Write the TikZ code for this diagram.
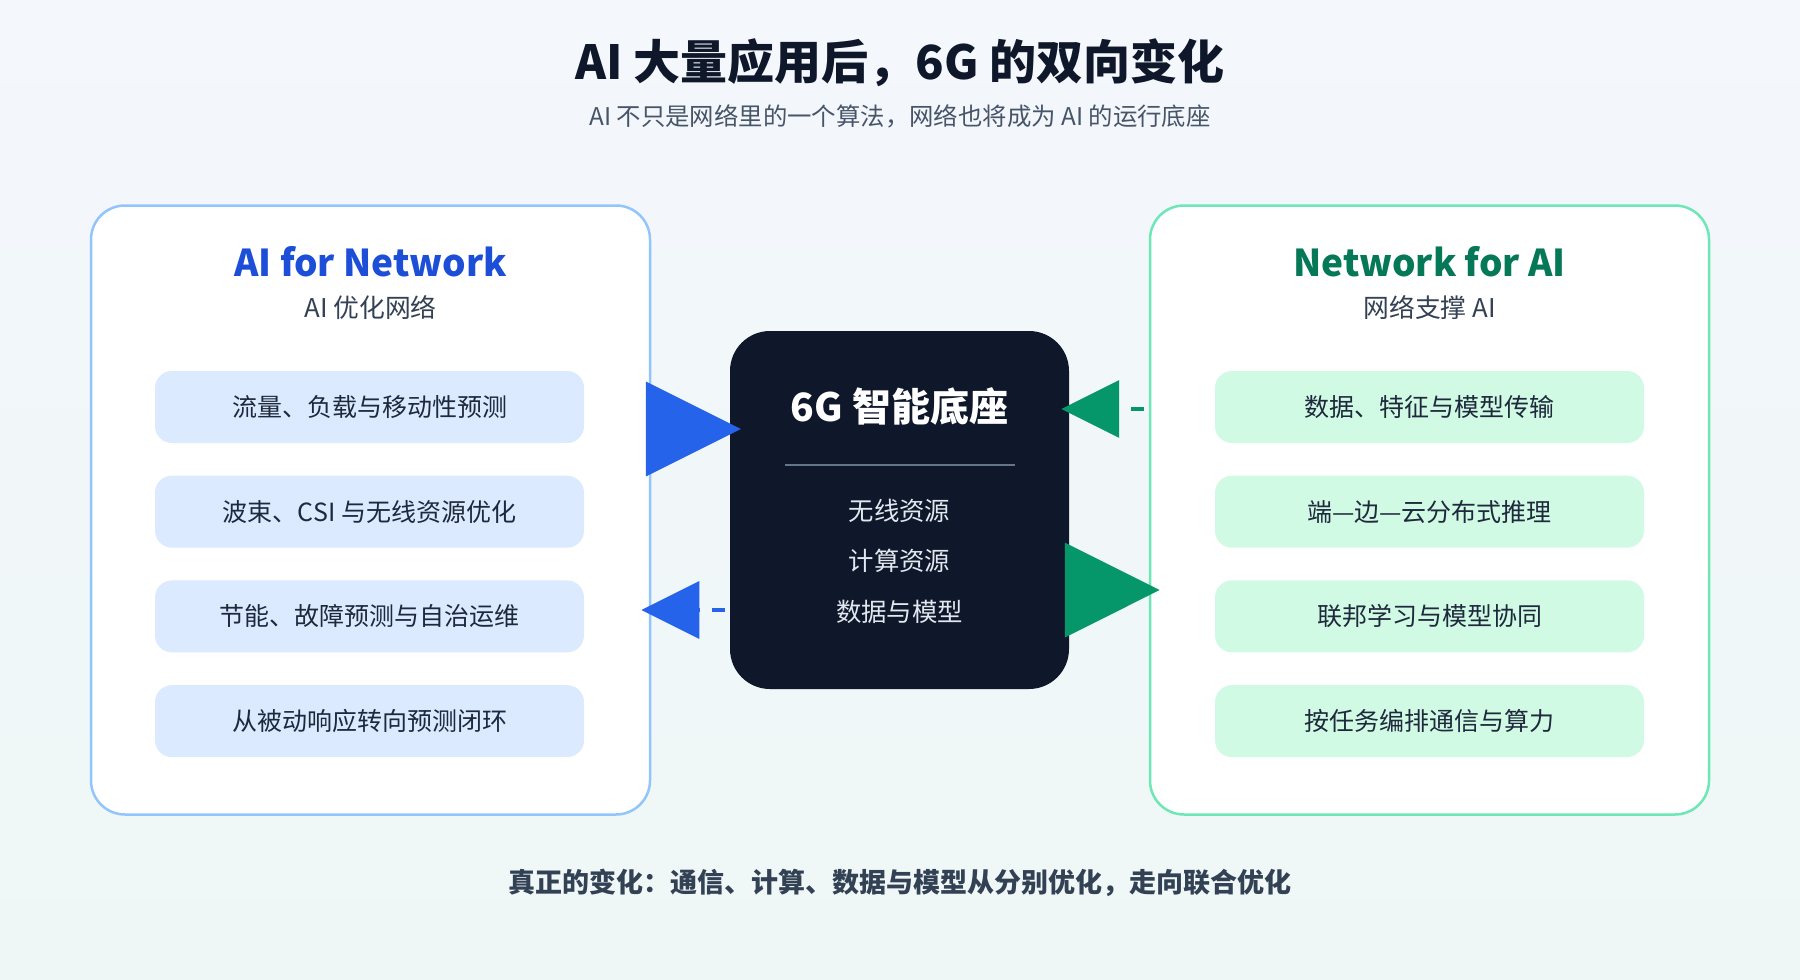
\documentclass[tikz,border=0pt]{standalone}
\usepackage{fontspec}
\setmainfont{Noto Sans CJK SC}
\usetikzlibrary{arrows.meta}

\definecolor{bgtop}{HTML}{F4F7FC}
\definecolor{bgbot}{HTML}{EEF7F6}
\definecolor{inkdark}{HTML}{0F172A}
\definecolor{inkgray}{HTML}{475569}
\definecolor{inksub}{HTML}{334155}
\definecolor{inkitem}{HTML}{1E293B}
\definecolor{afnedge}{HTML}{93C5FD}
\definecolor{afnfill}{HTML}{DBEAFE}
\definecolor{afntext}{HTML}{1D4ED8}
\definecolor{afnarrow}{HTML}{2563EB}
\definecolor{nfaedge}{HTML}{6EE7B7}
\definecolor{nfafill}{HTML}{D1FAE5}
\definecolor{nfatext}{HTML}{047857}
\definecolor{nfaarrow}{HTML}{059669}
\definecolor{corerulec}{HTML}{64748B}
\definecolor{coreink}{HTML}{E2E8F0}

\tikzset{
  headline/.style={text=inkdark,font=\fontsize{47}{56}\selectfont\bfseries},
  subline/.style={text=inkgray,font=\fontsize{24.4}{29}\selectfont},
  panel/.style={rectangle,rounded corners=34pt,minimum width=559pt,minimum height=609pt,
    fill=white,line width=2.5pt},
  paneltitle/.style={font=\fontsize{37}{44}\selectfont\bfseries},
  panelsub/.style={text=inksub,font=\fontsize{25.8}{31}\selectfont},
  itemA/.style={rectangle,rounded corners=17pt,minimum width=429pt,minimum height=72pt,
    fill=afnfill,text=inkitem,font=\fontsize{25}{30}\selectfont},
  itemB/.style={itemA,fill=nfafill},
  core/.style={rectangle,rounded corners=40pt,minimum width=339pt,minimum height=358pt,fill=inkdark},
  coretitle/.style={text=white,font=\fontsize{39}{47}\selectfont\bfseries},
  coreitem/.style={text=coreink,font=\fontsize{25.4}{30}\selectfont},
  corerule/.style={draw=corerulec,line width=1.5pt},
  bigarrow/.style={line width=4pt,-{Triangle[length=95pt,width=94pt]}},
  dasharrow/.style={line width=3.5pt,dash pattern=on 13pt off 12pt,dash phase=19pt,
    -{Triangle[length=58pt,width=57pt]}},
  footline/.style={text=inksub,font=\fontsize{27}{32}\selectfont\bfseries}
}

\begin{document}
\begin{tikzpicture}[x=1pt,y=-1pt]
  \shade[top color=bgtop,bottom color=bgbot] (0,0) rectangle (1800,980);
  \node[headline] (title) at (900,63) {AI 大量应用后，6G 的双向变化};
  \node[subline] (subtitle) at (900,116) {AI 不只是网络里的一个算法，网络也将成为 AI 的运行底座};

  \node[panel,draw=afnedge] (afn) at (370.5,510) {};
  \node[paneltitle,text=afntext] (afnT) at (370.5,262) {AI for Network};
  \node[panelsub] (afnS) at (370.5,308) {AI 优化网络};
  \node[itemA] (afn1) at (369.5,407) {流量、负载与移动性预测};
  \node[itemA] (afn2) at (369.5,511.7) {波束、CSI 与无线资源优化};
  \node[itemA] (afn3) at (369.5,616.4) {节能、故障预测与自治运维};
  \node[itemA] (afn4) at (369.5,721.1) {从被动响应转向预测闭环};

  \node[panel,draw=nfaedge] (nfa) at (1429.5,510) {};
  \node[paneltitle,text=nfatext] (nfaT) at (1429.5,262) {Network for AI};
  \node[panelsub] (nfaS) at (1429.5,308) {网络支撑 AI};
  \node[itemB] (nfa1) at (1429.5,407) {数据、特征与模型传输};
  \node[itemB] (nfa2) at (1429.5,511.7) {端—边—云分布式推理};
  \node[itemB] (nfa3) at (1429.5,616.4) {联邦学习与模型协同};
  \node[itemB] (nfa4) at (1429.5,721.1) {按任务编排通信与算力};

  \node[core] (core) at (899.5,510) {};
  \node[coretitle] (coreT) at (899.5,406) {6G 智能底座};
  \coordinate (ruleL) at (785,465);
  \coordinate (ruleR) at (1015,465);
  \draw[corerule] (ruleL) -- (ruleR);
  \node[coreitem] (res1) at (899.5,511) {无线资源};
  \node[coreitem] (res2) at (899.5,561) {计算资源};
  \node[coreitem] (res3) at (899.5,612) {数据与模型};

  \draw[bigarrow,afnarrow] ([xshift=-5pt,yshift=81pt]afn.east) -- ([xshift=11pt,yshift=81pt]core.west);
  \draw[dasharrow,afnarrow] ([xshift=1pt,yshift=-100pt]core.west) -- ([xshift=-10pt,yshift=-100pt]afn.east);
  \draw[dasharrow,nfaarrow] ([xshift=1pt,yshift=101pt]nfa.west) -- ([xshift=-8pt,yshift=101pt]core.east);
  \draw[bigarrow,nfaarrow] ([xshift=-4pt,yshift=-80pt]core.east) -- ([xshift=11pt,yshift=-80pt]nfa.west);

  \node[footline] (foot) at (900,883) {真正的变化：通信、计算、数据与模型从分别优化，走向联合优化};
\end{tikzpicture}
\end{document}
